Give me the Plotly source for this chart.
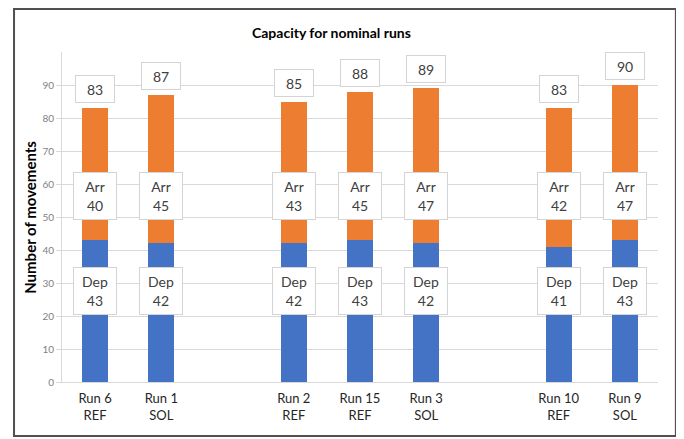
import plotly.graph_objects as go

# ---- data ----
groups = [["Run 6<br>REF", "Run 1<br>SOL"],
          ["Run 2<br>REF", "Run 15<br>REF", "Run 3<br>SOL"],
          ["Run 10<br>REF", "Run 9<br>SOL"]]
dep = [43, 42, 42, 43, 42, 41, 43]
arr = [40, 45, 43, 45, 47, 42, 47]
totals = [83, 87, 85, 88, 89, 83, 90]
y_ticks = [0, 10, 20, 30, 40, 50, 60, 70, 80, 90]

# category slot positions, one empty slot between groups
labels, xpos = [], []
slot = 0
for g in groups:
    for lab in g:
        labels.append(lab)
        xpos.append(slot)
        slot += 1
    slot += 1
last_slot = xpos[-1]

BLUE = "#4472C4"
ORANGE = "#ED7D31"
FONT = "Lato, Liberation Sans, sans-serif"

fig = go.Figure()
fig.add_bar(x=xpos, y=dep, name="Dep", marker=dict(color=BLUE, line=dict(width=0)), width=0.39)
fig.add_bar(x=xpos, y=arr, name="Arr", marker=dict(color=ORANGE, line=dict(width=0)), width=0.39)

ann = []
box = dict(bgcolor="white", bordercolor="#d4d4d4", borderwidth=1, showarrow=False,
           font=dict(family=FONT, size=14, color="#404040"))
for x, d, a, t in zip(xpos, dep, arr, totals):
    ann.append(dict(x=x, y=27.5, text=f"Dep<br>{d}", width=30, height=34, borderpad=6, **box))
    ann.append(dict(x=x, y=56.5, text=f"Arr<br>{a}", width=30, height=34, borderpad=6, **box))
    ann.append(dict(x=x, y=t, yanchor="bottom", yshift=5, text=f"{t}", width=28, height=16,
                    borderpad=5, **box))

ann.append(dict(x=0.453, y=1.058, xref="paper", yref="paper", showarrow=False,
                xanchor="center", yanchor="middle",
                text="<b>Capacity for nominal runs</b>",
                font=dict(family=FONT, size=14, color="#000000")))
ann.append(dict(x=-0.054, y=0.5, xref="paper", yref="paper", showarrow=False,
                xanchor="center", yanchor="middle", textangle=-90,
                text="<b>Number of movements</b>",
                font=dict(family=FONT, size=15, color="#000000")))

fig.update_layout(
    width=684, height=439,
    margin=dict(l=54, r=34, t=44, b=65, autoexpand=False),
    paper_bgcolor="white", plot_bgcolor="white",
    barmode="stack", showlegend=False,
    annotations=ann,
    font=dict(family=FONT),
    shapes=[dict(type="rect", xref="paper", yref="paper",
                 x0=-0.0805, x1=1.030, y0=-0.1636, y1=1.130,
                 line=dict(color="#505050", width=2), fillcolor="rgba(0,0,0,0)")],
)
fig.update_xaxes(range=[-0.5, last_slot + 0.5], tickvals=xpos, ticktext=labels, automargin=False,
                 showgrid=False, zeroline=False, showline=True, linecolor="#d9d9d9",
                 ticklabelstandoff=4,
                 tickfont=dict(family=FONT, size=13, color="#262626"), ticks="")
fig.update_yaxes(range=[0, 100], tickvals=y_ticks, showgrid=True, gridcolor="#d9d9d9",
                 zeroline=False, showline=True, linecolor="#d9d9d9", automargin=False,
                 ticks="outside", ticklen=5, tickcolor="#d9d9d9",
                 tickfont=dict(family=FONT, size=10, color="#7f7f7f"))

fig.write_html("out.html")
